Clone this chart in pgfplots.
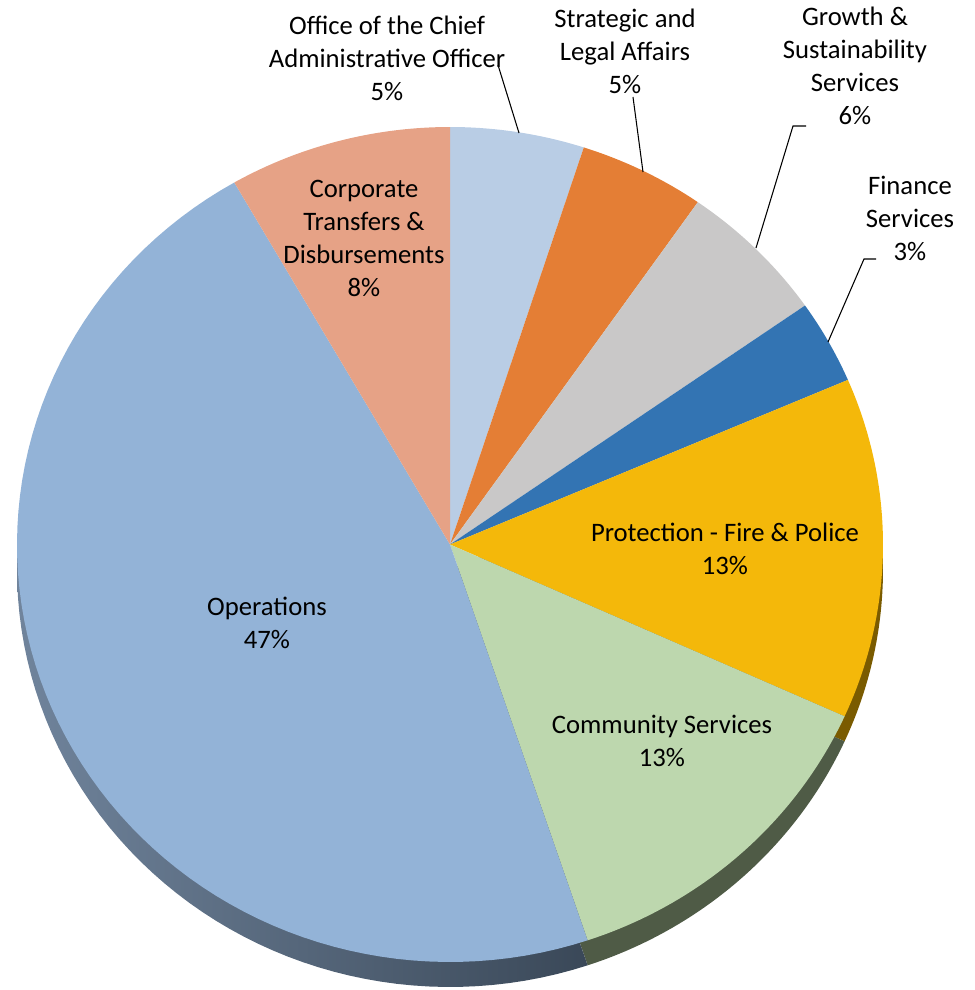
\documentclass[border=0pt]{standalone}
\usepackage{pgfplots}
\usepackage{pgfplotstable}
\pgfplotsset{compat=1.18}
\usepackage{fontspec}
\setmainfont{Carlito}

\definecolor{cCAO}{HTML}{B9CDE5}
\definecolor{cSLA}{HTML}{E47E35}
\definecolor{cGSS}{HTML}{C9C8C8}
\definecolor{cFIN}{HTML}{3374B3}
\definecolor{cPRO}{HTML}{F4B80A}
\definecolor{cCOM}{HTML}{BDD7AE}
\definecolor{cOPS}{HTML}{93B3D7}
\definecolor{cCTD}{HTML}{E6A286}
\definecolor{rPRO}{HTML}{7A5B00}
\definecolor{rCOM}{HTML}{4F5B46}
\definecolor{rOPSa}{HTML}{70849C}
\definecolor{rOPSb}{HTML}{3A4858}

% share of the budget, in percent, clockwise from 12 o'clock
\pgfplotstableread{
key value
CAO 5.0
SLA 4.7
GSS 5.6
FIN 3.25
PRO 13.2
COM 13.1
OPS 46.85
CTD 8.3
}\piedata

\newcommand\getv[2]{\pgfplotstablegetelem{#1}{value}\of\piedata\pgfmathsetmacro#2{\pgfplotsretval}}
\getv{0}\vA \getv{1}\vB \getv{2}\vC \getv{3}\vD
\getv{4}\vE \getv{5}\vF \getv{6}\vG \getv{7}\vH
% boundary angles (degrees, mathematical), starting at 90 and going clockwise
\pgfmathsetmacro\bA{90}
\pgfmathsetmacro\bB{\bA-3.6*\vA}
\pgfmathsetmacro\bC{\bB-3.6*\vB}
\pgfmathsetmacro\bD{\bC-3.6*\vC}
\pgfmathsetmacro\bE{\bD-3.6*\vD}
\pgfmathsetmacro\bF{\bE-3.6*\vE}
\pgfmathsetmacro\bG{\bF-3.6*\vF}
\pgfmathsetmacro\bH{\bG-3.6*\vG}
\pgfmathsetmacro\bI{\bH-3.6*\vH}

\def\cx{450}
\def\cy{-544.5}
\def\rx{433}
\def\ry{417.5}
\def\dz{25}

% #1 = from angle, #2 = to angle, #3 = style, #4 = vertical offset
\newcommand\pieslice[4]{%
  \addplot[#3, draw=none, domain=#2:#1, samples=80, variable=\t]
    ({\cx+\rx*cos(\t)},{\cy-#4+\ry*sin(\t)}) -- (axis cs:\cx,\cy-#4) -- cycle;
}

\begin{document}
\begin{tikzpicture}
\begin{axis}[
  scale only axis, width=731.25pt, height=742.5pt,
  xmin=0, xmax=975, ymin=-990, ymax=0,
  hide axis, clip=false,
]
% side (3-D rim)
\pieslice{\bE}{\bF}{fill=rPRO}{\dz}
\pieslice{\bF}{\bG}{fill=rCOM}{\dz}
\pieslice{\bG}{\bH}{left color=rOPSa, right color=rOPSb}{\dz}
% top face
\pieslice{\bA}{\bB}{fill=cCAO}{0}
\pieslice{\bB}{\bC}{fill=cSLA}{0}
\pieslice{\bC}{\bD}{fill=cGSS}{0}
\pieslice{\bD}{\bE}{fill=cFIN}{0}
\pieslice{\bE}{\bF}{fill=cPRO}{0}
\pieslice{\bF}{\bG}{fill=cCOM}{0}
\pieslice{\bG}{\bH}{fill=cOPS}{0}
\pieslice{\bH}{\bI}{fill=cCTD}{0}

% leader lines
\draw[black, line width=0.8pt] (axis cs:498,-65) -- (axis cs:519,-133);
\draw[black, line width=0.8pt] (axis cs:633,-97) -- (axis cs:643,-172);
\draw[black, line width=0.8pt] (axis cs:806,-126) -- (axis cs:793,-126) -- (axis cs:756,-248);
\draw[black, line width=0.8pt] (axis cs:876,-259) -- (axis cs:864,-259) -- (axis cs:828,-342);

% labels
\tikzset{lab/.style={align=center, inner sep=0pt, font=\fontsize{20}{24.75}\selectfont, anchor=center}}
\node[lab] at (axis cs:387,-58) {Office of the Chief\\Administrative Officer\\5\%};
\node[lab] at (axis cs:625,-51) {Strategic and\\Legal Affairs\\5\%};
\node[lab] at (axis cs:855,-66) {Growth \&\\Sustainability\\Services\\6\%};
\node[lab] at (axis cs:910,-218) {Finance\\Services\\3\%};
\node[lab] at (axis cs:364,-238) {Corporate\\Transfers \&\\Disbursements\\8\%};
\node[lab] at (axis cs:725,-549) {Protection - Fire \& Police\\13\%};
\node[lab] at (axis cs:662,-741) {Community Services\\13\%};
\node[lab] at (axis cs:267,-623) {Operations\\47\%};
\end{axis}
\pgfresetboundingbox
\path (current axis.south west) rectangle (current axis.north east);
\end{tikzpicture}
\end{document}
